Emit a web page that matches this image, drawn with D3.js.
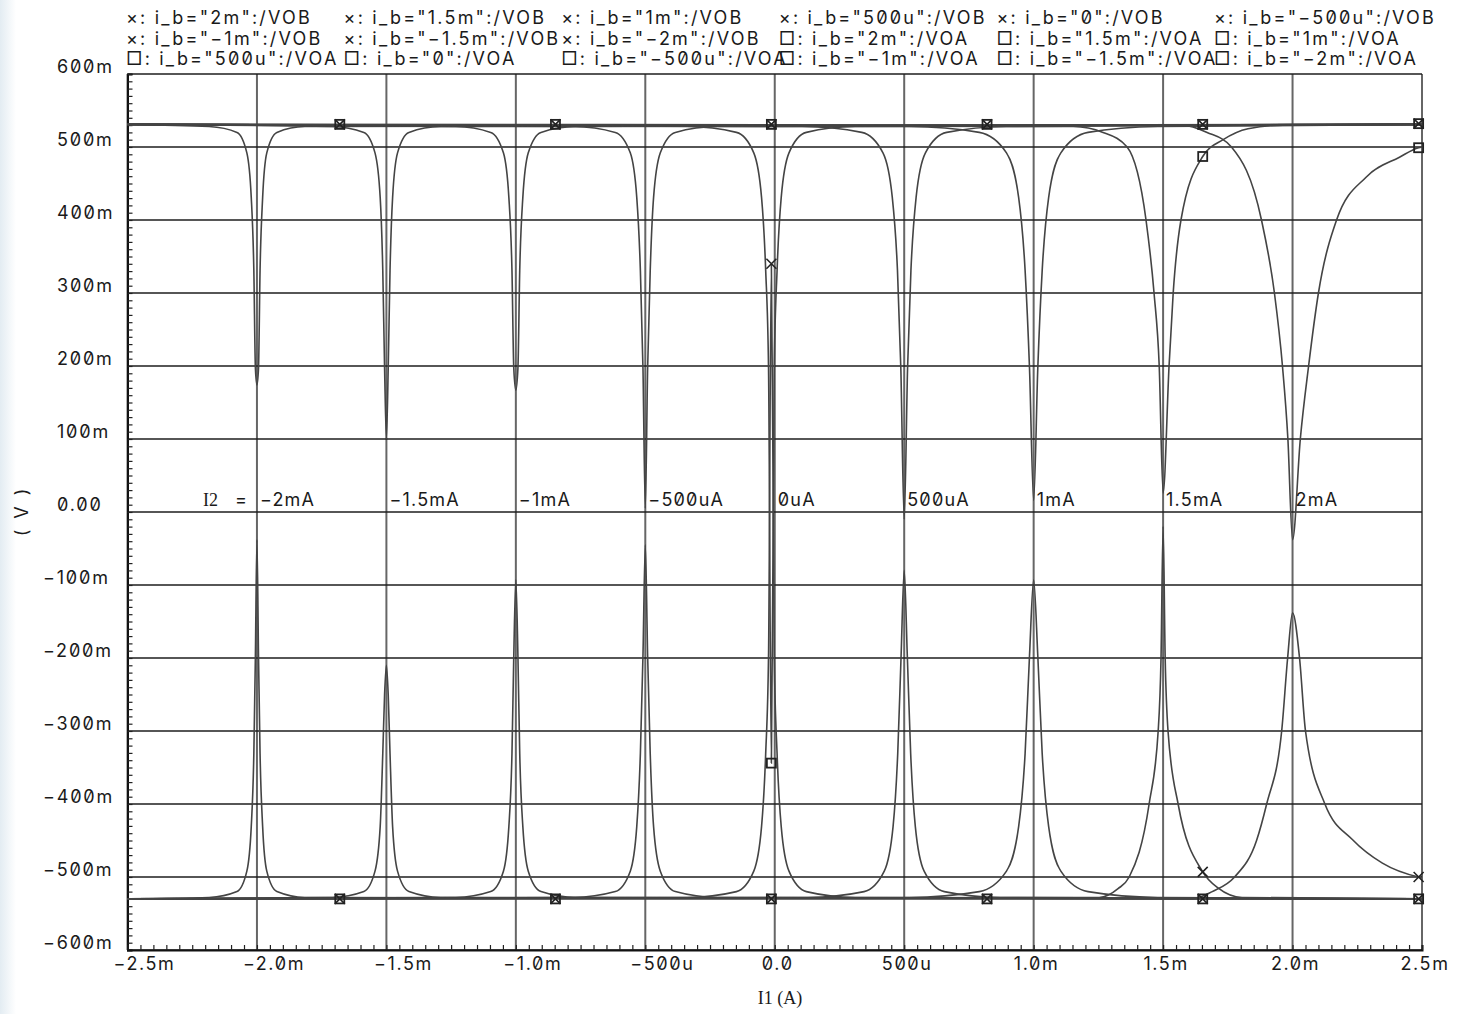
<!DOCTYPE html>
<html>
<head>
<meta charset="utf-8">
<script src="https://cdn.jsdelivr.net/npm/d3@7"></script>
<style>
body { margin: 0; background: #fff; }
svg text { font-family: Inter, "Liberation Sans", sans-serif; font-feature-settings: "zero" 1; fill: #1a1a1a; }
</style>
</head>
<body>
<svg id="chart"></svg>
<script>
// I2 sweep values (mA) and the labels written on the 0 V line
var i2Values = [-2, -1.5, -1, -0.5, 0, 0.5, 1, 1.5, 2];
var i2Labels = ["\u22122mA", "\u22121.5mA", "\u22121mA", "\u2212500uA", "0uA", "500uA", "1mA", "1.5mA", "2mA"];

var xTickValues = [-2.5, -2, -1.5, -1, -0.5, 0, 0.5, 1, 1.5, 2, 2.5];
var xTickLabels = ["\u22122.5m", "\u22122.0m", "\u22121.5m", "\u22121.0m", "\u2212500u", "0.0", "500u", "1.0m", "1.5m", "2.0m", "2.5m"];
var yTickValues = [600, 500, 400, 300, 200, 100, 0, -100, -200, -300, -400, -500, -600];
var yTickLabels = ["600m", "500m", "400m", "300m", "200m", "100m", "0.00", "\u2212100m", "\u2212200m", "\u2212300m", "\u2212400m", "\u2212500m", "\u2212600m"];

var legendEntries = [
  "\u00d7: i_b=\"2m\":/VOB", "\u00d7: i_b=\"1.5m\":/VOB", "\u00d7: i_b=\"1m\":/VOB", "\u00d7: i_b=\"500u\":/VOB", "\u00d7: i_b=\"0\":/VOB", "\u00d7: i_b=\"\u2212500u\":/VOB",
  "\u00d7: i_b=\"\u22121m\":/VOB", "\u00d7: i_b=\"\u22121.5m\":/VOB", "\u00d7: i_b=\"\u22122m\":/VOB", "\u25a1: i_b=\"2m\":/VOA", "\u25a1: i_b=\"1.5m\":/VOA", "\u25a1: i_b=\"1m\":/VOA",
  "\u25a1: i_b=\"500u\":/VOA", "\u25a1: i_b=\"0\":/VOA", "\u25a1: i_b=\"\u2212500u\":/VOA", "\u25a1: i_b=\"\u22121m\":/VOA", "\u25a1: i_b=\"\u22121.5m\":/VOA", "\u25a1: i_b=\"\u22122m\":/VOA"
];

// upper branch of each sweep (I1 in mA, V in mV) - dips near I1 = I2
var voUpper = [
  [[-2.5,531],[-2.185,528],[-2.077,520],[-2.039,492],[-2.022,431],[-2.012,331],[-2.006,197],[-2,174],[-1.994,197],[-1.988,331],[-1.978,431],[-1.962,492],[-1.923,520],[-1.815,528],[2.5,531]],
  [[-2.5,531],[-1.709,528],[-1.587,520],[-1.544,492],[-1.524,431],[-1.514,331],[-1.507,197],[-1.5,100],[-1.493,197],[-1.486,331],[-1.476,431],[-1.457,492],[-1.413,520],[-1.291,528],[2.5,531]],
  [[-2.5,531],[-1.232,528],[-1.097,520],[-1.048,492],[-1.027,431],[-1.015,331],[-1.008,197],[-1,167],[-0.992,197],[-0.985,331],[-0.973,431],[-0.952,492],[-0.903,520],[-0.768,528],[2.5,531]],
  [[-2.5,531],[-0.778,528],[-0.616,520],[-0.558,492],[-0.533,431],[-0.519,331],[-0.509,197],[-0.5,5],[-0.491,197],[-0.481,331],[-0.468,431],[-0.442,492],[-0.384,520],[-0.222,528],[2.5,531]],
  [[-2.5,531],[-0.337,528],[-0.148,520],[-0.081,492],[-0.051,431],[-0.035,331],[-0.024,197],[-0.013,-344],[-0.002,197],[0.009,331],[0.025,431],[0.055,492],[0.122,520],[0.311,528],[2.5,531]],
  [[-2.5,531],[0.106,528],[0.336,520],[0.418,492],[0.454,431],[0.474,331],[0.487,197],[0.5,-10],[0.513,197],[0.526,331],[0.546,431],[0.582,492],[0.664,520],[0.894,528],[2.5,531]],
  [[-2.5,531],[0.52,528],[0.79,520],[0.895,492],[0.942,431],[0.967,331],[0.984,197],[1,16],[1.016,197],[1.033,331],[1.058,431],[1.105,492],[1.21,520],[1.48,528],[2.5,531]],
  [[-2.5,531],[1.153,528],[1.268,520],[1.361,500],[1.434,400],[1.465,300],[1.485,200],[1.5,26],[1.523,200],[1.539,300],[1.569,400],[1.653,487],[1.732,510],[1.828,525],[1.963,530],[2.5,531]],
  [[-2.5,531],[1.575,530],[1.67,520],[1.764,500],[1.88,400],[1.93,300],[1.961,200],[1.982,100],[2,-38],[2.03,100],[2.062,200],[2.1,300],[2.17,400],[2.285,459],[2.413,486],[2.487,499],[2.5,500]]
];

// lower branch of each sweep - peaks near I1 = I2
var voLower = [
  [[-2.5,-530],[-2.185,-528],[-2.077,-520],[-2.039,-492],[-2.022,-431],[-2.012,-331],[-2.006,-197],[-2,-38],[-1.994,-197],[-1.988,-331],[-1.978,-431],[-1.962,-492],[-1.923,-520],[-1.815,-528],[2.5,-530]],
  [[-2.5,-530],[-1.709,-528],[-1.587,-520],[-1.544,-492],[-1.524,-431],[-1.514,-331],[-1.507,-250],[-1.5,-210],[-1.493,-250],[-1.486,-331],[-1.476,-431],[-1.457,-492],[-1.413,-520],[-1.291,-528],[2.5,-530]],
  [[-2.5,-530],[-1.232,-528],[-1.097,-520],[-1.048,-492],[-1.027,-431],[-1.015,-331],[-1.008,-197],[-1,-93],[-0.992,-197],[-0.985,-331],[-0.973,-431],[-0.952,-492],[-0.903,-520],[-0.768,-528],[2.5,-530]],
  [[-2.5,-530],[-0.778,-528],[-0.616,-520],[-0.558,-492],[-0.533,-431],[-0.519,-331],[-0.509,-197],[-0.5,-45],[-0.491,-197],[-0.481,-331],[-0.468,-431],[-0.442,-492],[-0.384,-520],[-0.222,-528],[2.5,-530]],
  [[-2.5,-530],[-0.337,-528],[-0.148,-520],[-0.081,-492],[-0.051,-431],[-0.035,-331],[-0.024,-197],[-0.013,340],[-0.002,-197],[0.009,-331],[0.025,-431],[0.055,-492],[0.122,-520],[0.311,-528],[2.5,-530]],
  [[-2.5,-530],[0.129,-528],[0.345,-520],[0.423,-492],[0.457,-431],[0.475,-331],[0.488,-197],[0.5,-80],[0.512,-197],[0.525,-331],[0.543,-431],[0.577,-492],[0.655,-520],[0.871,-528],[2.5,-530]],
  [[-2.5,-530],[0.52,-528],[0.79,-520],[0.895,-492],[0.942,-431],[0.967,-331],[0.984,-197],[1,-93],[1.016,-197],[1.033,-331],[1.058,-431],[1.105,-492],[1.21,-520],[1.48,-528],[2.5,-530]],
  [[-2.5,-530],[1.253,-528],[1.326,-516],[1.369,-500],[1.446,-400],[1.481,-300],[1.492,-200],[1.5,-20],[1.508,-200],[1.519,-300],[1.558,-400],[1.653,-493],[1.712,-515],[1.805,-528],[2.5,-530]],
  [[-2.5,-530],[1.614,-530],[1.69,-520],[1.776,-500],[1.861,-450],[1.9,-400],[1.958,-300],[1.981,-200],[2,-138],[2.027,-200],[2.05,-300],[2.125,-400],[2.232,-449],[2.347,-481],[2.487,-500],[2.5,-501]]
];

// marker positions (VOA squares, VOB crosses)
var squareMarks = [[-1.68,531],[-0.847,531],[-0.013,531],[0.82,531],[1.653,531],[2.487,532],
  [-1.68,-530],[-0.847,-530],[-0.013,-530],[0.82,-530],[1.653,-530],[2.487,-530],
  [-0.013,-344],[1.653,487],[2.487,499]];
var crossMarks = [[-1.68,531],[-0.847,531],[-0.013,531],[0.82,531],[1.653,531],[2.487,532],
  [-1.68,-530],[-0.847,-530],[-0.013,-530],[0.82,-530],[1.653,-530],[2.487,-530],
  [-0.013,340],[1.653,-493],[2.487,-500]];

var W = 1464, H = 1014;
var svg = d3.select("#chart").attr("width", W).attr("height", H);

// faint tint on the far left edge of the screenshot
var grad = svg.append("defs").append("linearGradient").attr("id", "edge")
  .attr("x1", 0).attr("x2", 1).attr("y1", 0).attr("y2", 0);
grad.append("stop").attr("offset", "0%").attr("stop-color", "#e3ecf2");
grad.append("stop").attr("offset", "100%").attr("stop-color", "#ffffff");
svg.append("rect").attr("width", 16).attr("height", H).attr("fill", "url(#edge)");

var x = d3.scaleLinear().domain([-2.5, 2.5]).range([127.5, 1422]);
var y = d3.scaleLinear().domain([-600, 600]).range([950, 74]);

// grid
svg.append("g").selectAll("line").data(xTickValues).join("line")
  .attr("x1", d => x(d)).attr("x2", d => x(d))
  .attr("y1", y(600)).attr("y2", y(-600))
  .attr("stroke", "#666").attr("stroke-width", 2);
svg.append("g").selectAll("line").data(yTickValues).join("line")
  .attr("x1", x(-2.5)).attr("x2", x(2.5))
  .attr("y1", d => y(d)).attr("y2", d => y(d))
  .attr("stroke", "#1e1e1e").attr("stroke-width", 1.5);

// axes with minor ticks pointing inside
var yAxis = d3.axisLeft(y).tickValues(d3.range(-600, 601, 10)).tickSize(-5).tickFormat("");
svg.append("g").attr("transform", "translate(" + x(-2.5) + ",0)").call(yAxis)
  .call(g => g.select(".domain").attr("stroke", "#111").attr("stroke-width", 2))
  .call(g => g.selectAll(".tick line").attr("stroke", "#222").attr("stroke-width", 1.2));
var xAxis = d3.axisBottom(x).tickValues(d3.range(-2.5, 2.5001, 0.05)).tickSize(-5).tickFormat("");
svg.append("g").attr("transform", "translate(0," + y(-600) + ")").call(xAxis)
  .call(g => g.select(".domain").attr("stroke", "#111").attr("stroke-width", 2))
  .call(g => g.selectAll(".tick line").attr("stroke", "#222").attr("stroke-width", 1.2));

// tick labels
svg.append("g").selectAll("text").data(yTickValues).join("text")
  .attr("x", (d) => d < 0 ? 43 : 57)
  .attr("y", d => y(d) - 1)
  .style("font-size", "18px").style("letter-spacing", "1.8px")
  .text((d, i) => yTickLabels[i]);
svg.append("g").selectAll("text").data(xTickValues).join("text")
  .attr("x", d => x(d) + (d < 0 ? 17 : 3))
  .attr("y", 970)
  .attr("text-anchor", "middle")
  .style("font-size", "18px").style("letter-spacing", "1.6px")
  .text((d, i) => xTickLabels[i]);

svg.append("text").attr("transform", "translate(28,511) rotate(-90)")
  .attr("text-anchor", "middle").style("font-size", "18px").style("letter-spacing", "3px").text("( V )");
svg.append("text").attr("x", 780).attr("y", 1004).attr("text-anchor", "middle")
  .style("font-family", "'Liberation Serif', serif").style("font-size", "18px").text("I1 (A)");

// curves
var line = d3.line().x(d => x(d[0])).y(d => y(d[1])).curve(d3.curveMonotoneX);
svg.append("g").selectAll("path").data(voUpper.concat(voLower)).join("path")
  .attr("d", line).attr("fill", "none")
  .attr("stroke", "#444").attr("stroke-width", 1.6);

// markers
svg.append("g").selectAll("rect").data(squareMarks).join("rect")
  .attr("x", d => x(d[0]) - 4.5).attr("y", d => y(d[1]) - 4.5)
  .attr("width", 9).attr("height", 9)
  .attr("fill", "none").attr("stroke", "#222").attr("stroke-width", 1.8);
svg.append("g").selectAll("path").data(crossMarks).join("path")
  .attr("d", d => {
    var cx = x(d[0]), cy = y(d[1]);
    return "M" + (cx - 5) + "," + (cy - 5) + "L" + (cx + 5) + "," + (cy + 5) +
           "M" + (cx - 5) + "," + (cy + 5) + "L" + (cx + 5) + "," + (cy - 5);
  })
  .attr("stroke", "#222").attr("stroke-width", 1.6);

// I2 labels on the zero line
svg.append("g").selectAll("text").data(i2Values).join("text")
  .attr("x", d => x(d) + 3).attr("y", y(0) - 6)
  .style("font-size", "18px").style("letter-spacing", "1.2px")
  .text((d, i) => i2Labels[i]);
svg.append("text").attr("x", 203).attr("y", y(0) - 6)
  .style("font-family", "'Liberation Serif', serif").style("font-size", "18px")
  .text("I2");
svg.append("text").attr("x", 235).attr("y", y(0) - 6)
  .style("font-size", "18px").text("=");

// legend, 6 columns x 3 rows
svg.append("g").selectAll("text").data(legendEntries).join("text")
  .attr("x", (d, i) => 126 + (i % 6) * 217.6)
  .attr("y", (d, i) => 24 + Math.floor(i / 6) * 20.5)
  .style("font-size", "18px").style("letter-spacing", "2.2px")
  .text(d => d);
</script>
</body>
</html>
